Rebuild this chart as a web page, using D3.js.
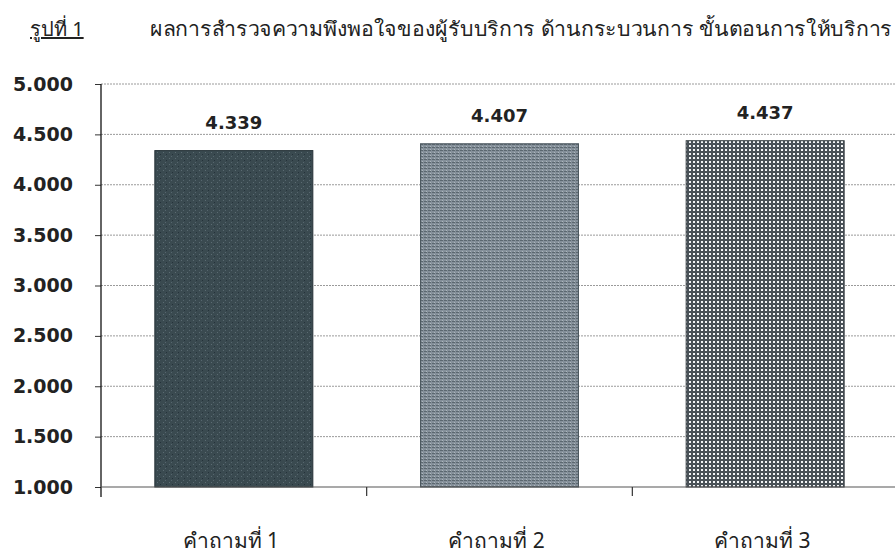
<!DOCTYPE html>
<html>
<head>
<meta charset="utf-8">
<script src="https://cdn.jsdelivr.net/npm/d3@7/dist/d3.min.js"></script>
<style>
  html, body { margin: 0; padding: 0; background: #fff; }
  svg { display: block; }
</style>
</head>
<body>
<svg id="chart" width="895" height="557"></svg>
<script>
// Satisfaction survey results: process / service steps
const categories = ["คำถามที่ 1", "คำถามที่ 2", "คำถามที่ 3"];
const scores = [4.339, 4.407, 4.437];
const yTicks = [1, 1.5, 2, 2.5, 3, 3.5, 4, 4.5, 5];
const figureLabel = "รูปที่ 1";
const titleText = "ผลการสำรวจความพึงพอใจของผู้รับบริการ ด้านกระบวนการ ขั้นตอนการให้บริการ";

const svg = d3.select("#chart");
const margin = { left: 101, right: 0, top: 84, bottom: 70 };
const W = 895, H = 557;

const x = d3.scaleBand().domain(categories).range([margin.left, 898]).paddingInner(0).paddingOuter(0);
const y = d3.scaleLinear().domain([1, 5]).range([487, 84]);

// Fill patterns for the three bars
const defs = svg.append("defs");

const p1 = defs.append("pattern").attr("id", "fill1").attr("patternUnits", "userSpaceOnUse")
  .attr("width", 6).attr("height", 6);
p1.append("rect").attr("width", 6).attr("height", 6).attr("fill", "#3a4a50");
p1.append("rect").attr("x", 1).attr("y", 2).attr("width", 1).attr("height", 1).attr("fill", "#5b6b72");
p1.append("rect").attr("x", 4).attr("y", 4).attr("width", 1).attr("height", 1).attr("fill", "#25323a");
p1.append("rect").attr("x", 3).attr("y", 0).attr("width", 1).attr("height", 1).attr("fill", "#56666e");

const p2 = defs.append("pattern").attr("id", "fill2").attr("patternUnits", "userSpaceOnUse")
  .attr("width", 4).attr("height", 3);
p2.append("rect").attr("width", 4).attr("height", 3).attr("fill", "#85909a");
p2.append("rect").attr("x", 0).attr("y", 0).attr("width", 3).attr("height", 1).attr("fill", "#5c6870");
p2.append("rect").attr("x", 2).attr("y", 2).attr("width", 1).attr("height", 1).attr("fill", "#aeb8be");

const p3 = defs.append("pattern").attr("id", "fill3").attr("patternUnits", "userSpaceOnUse")
  .attr("width", 4).attr("height", 4);
p3.append("rect").attr("width", 4).attr("height", 4).attr("fill", "#4a5258");
p3.append("rect").attr("x", 1).attr("y", 1).attr("width", 2).attr("height", 2).attr("fill", "#f4f6f7");

const fills = ["url(#fill1)", "url(#fill2)", "url(#fill3)"];
const edges = ["#263238", "#4d5960", "#3a4146"];

// Horizontal dotted gridlines
svg.append("g")
  .selectAll("line")
  .data(yTicks.slice(1))
  .join("line")
  .attr("x1", margin.left).attr("x2", W)
  .attr("y1", d => y(d)).attr("y2", d => y(d))
  .attr("stroke", "#9a9a9a")
  .attr("stroke-width", 1)
  .attr("stroke-dasharray", "2,1");

// Bars
const barW = 158;
svg.append("g")
  .selectAll("rect")
  .data(scores)
  .join("rect")
  .attr("x", (d, i) => x(categories[i]) + x.bandwidth() / 2 - barW / 2)
  .attr("y", d => y(d))
  .attr("width", barW)
  .attr("height", d => y(1) - y(d))
  .attr("fill", (d, i) => fills[i])
  .attr("stroke", (d, i) => edges[i])
  .attr("stroke-width", 1);

// Value labels
svg.append("g")
  .selectAll("text")
  .data(scores)
  .join("text")
  .attr("x", (d, i) => x(categories[i]) + x.bandwidth() / 2)
  .attr("y", d => y(d) - 22)
  .attr("text-anchor", "middle")
  .attr("font-family", "'DejaVu Sans', sans-serif")
  .attr("font-weight", "bold")
  .attr("font-size", 18)
  .attr("fill", "#222")
  .text(d => d.toFixed(3));

// Y axis
const yAxis = d3.axisLeft(y).tickValues(yTicks).tickSize(6).tickPadding(22)
  .tickFormat(d3.format(".3f"));
const gy = svg.append("g").attr("transform", `translate(${margin.left},0)`).call(yAxis);
gy.select(".domain").remove();
gy.append("line").attr("x1", 0).attr("x2", 0).attr("y1", 84).attr("y2", 497).attr("stroke", "#111").attr("stroke-width", 1.3);
gy.selectAll(".tick line").attr("stroke", "#333");
gy.selectAll(".tick text")
  .attr("font-family", "'DejaVu Sans', sans-serif")
  .attr("font-weight", "bold")
  .attr("font-size", 19)
  .attr("fill", "#222");

// X axis baseline and category ticks
svg.append("line").attr("x1", margin.left).attr("x2", W).attr("y1", y(1)).attr("y2", y(1))
  .attr("stroke", "#555").attr("stroke-width", 1.2);
svg.append("g")
  .selectAll("line")
  .data(categories.slice(1))
  .join("line")
  .attr("x1", d => x(d)).attr("x2", d => x(d))
  .attr("y1", y(1)).attr("y2", y(1) + 9)
  .attr("stroke", "#333").attr("stroke-width", 1.2);

// Category labels
svg.append("g")
  .selectAll("text")
  .data(categories)
  .join("text")
  .attr("x", d => x(d) + x.bandwidth() / 2 - 3)
  .attr("y", 548)
  .attr("text-anchor", "middle")
  .attr("font-family", "'Noto Sans', sans-serif")
  .attr("font-size", 21)
  .attr("fill", "#222")
  .text(d => d);

// Title
svg.append("text")
  .attr("x", 30).attr("y", 36)
  .attr("font-family", "'Noto Sans', sans-serif")
  .attr("font-size", 20)
  .attr("fill", "#222")
  .attr("text-decoration", "underline")
  .text(figureLabel);
svg.append("text")
  .attr("x", 150).attr("y", 36)
  .attr("font-family", "'Noto Sans', sans-serif")
  .attr("font-size", 20)
  .attr("fill", "#222")
  .attr("textLength", 742)
  .attr("lengthAdjust", "spacingAndGlyphs")
  .text(titleText);
</script>
</body>
</html>
